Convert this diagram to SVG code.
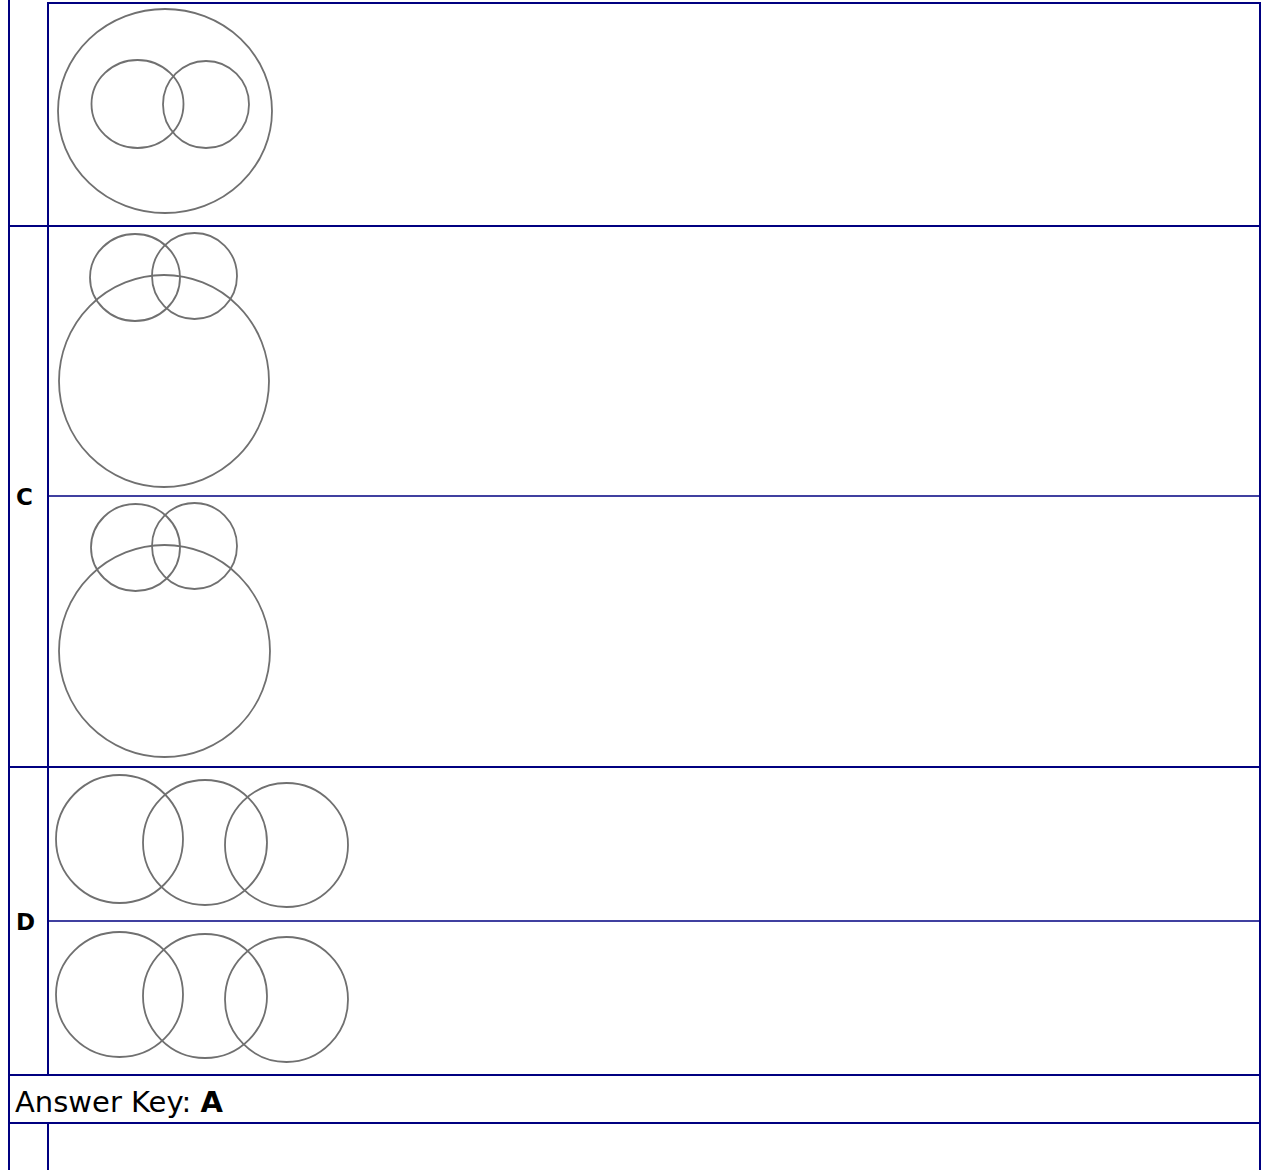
<svg xmlns="http://www.w3.org/2000/svg" width="1262" height="1170" viewBox="0 0 1262 1170">
<style>
.b{stroke:#000080;stroke-width:2;fill:none}
.t{stroke:#000080;stroke-width:1.5;fill:none}
.c{stroke:#707070;stroke-width:1.8;fill:none}
.lbl{font-family:"DejaVu Sans",Verdana,sans-serif;font-weight:bold;font-size:23px;fill:#000}
.key{font-family:"DejaVu Sans",Verdana,sans-serif;font-size:29px;fill:#000}
</style>
<rect width="1262" height="1170" fill="#fff"/>
<g id="grid">
<line class="b" x1="9" y1="0" x2="9" y2="1170"/>
<line class="b" x1="48" y1="2" x2="48" y2="1075"/>
<line class="b" x1="48" y1="1123" x2="48" y2="1170"/>
<line class="b" x1="1260" y1="2" x2="1260" y2="1170"/>
<line class="b" x1="47" y1="3" x2="1261" y2="3"/>
<line class="b" x1="8" y1="226" x2="1261" y2="226"/>
<line class="t" x1="48" y1="496" x2="1261" y2="496"/>
<line class="b" x1="8" y1="767" x2="1261" y2="767"/>
<line class="t" x1="48" y1="921" x2="1261" y2="921"/>
<line class="b" x1="8" y1="1075" x2="1261" y2="1075"/>
<line class="b" x1="8" y1="1123" x2="1261" y2="1123"/>
</g>
<g id="optB2">
<ellipse class="c" cx="165" cy="111" rx="107" ry="102"/>
<ellipse class="c" cx="137.5" cy="104" rx="46" ry="44"/>
<ellipse class="c" cx="206" cy="104.5" rx="43" ry="43.5"/>
</g>
<g id="labelC"><text class="lbl" x="16" y="505">C</text></g>
<g id="optC1">
<ellipse class="c" cx="164" cy="381" rx="105" ry="106"/>
<ellipse class="c" cx="135" cy="277.5" rx="45" ry="43.5"/>
<ellipse class="c" cx="194.5" cy="276" rx="42.5" ry="43"/>
</g>
<g id="optC2">
<ellipse class="c" cx="164.5" cy="651" rx="105.5" ry="106"/>
<ellipse class="c" cx="135.5" cy="547.5" rx="44.5" ry="43.5"/>
<ellipse class="c" cx="194.5" cy="546" rx="42.5" ry="43"/>
</g>
<g id="labelD"><text class="lbl" x="16" y="930">D</text></g>
<g id="optD1">
<ellipse class="c" cx="119.5" cy="839" rx="63.5" ry="64"/>
<ellipse class="c" cx="205" cy="842.5" rx="62" ry="62.5"/>
<ellipse class="c" cx="286.5" cy="845" rx="61.5" ry="62"/>
</g>
<g id="optD2">
<ellipse class="c" cx="119.5" cy="994.5" rx="63.5" ry="62.5"/>
<ellipse class="c" cx="205" cy="996" rx="62" ry="62"/>
<ellipse class="c" cx="286.5" cy="999.5" rx="61.5" ry="62.5"/>
</g>
<g id="answer"><text class="key" x="15" y="1112">Answer Key: <tspan font-weight="bold">A</tspan></text></g>
</svg>
